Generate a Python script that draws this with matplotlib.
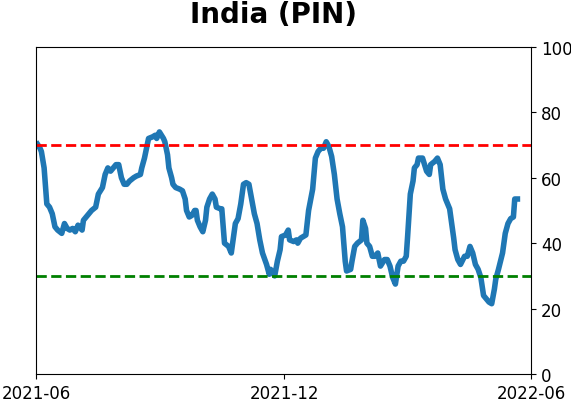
import matplotlib
matplotlib.use("Agg")
import matplotlib.pyplot as plt
import pandas as pd

title = "India (PIN)"
start_date = "2021-06-01"
day_offsets = [0, 3, 4, 6, 8, 10, 12, 14, 16, 19, 21, 23, 25, 27, 29, 31, 32, 34, 35, 37,
               39, 41, 44, 46, 49, 51, 53, 55, 57, 59, 61, 63, 65, 67, 69, 72, 74, 77, 78, 80,
               83, 86, 88, 89, 91, 94, 95, 97, 98, 100, 101, 103, 106, 108, 110, 111, 113, 115, 117, 118,
               119, 121, 123, 125, 126, 128, 130, 132, 133, 136, 137, 139, 142, 144, 146, 147, 149, 151, 153, 155,
               157, 159, 161, 163, 165, 167, 170, 172, 173, 176, 178, 180, 181, 184, 186, 187, 190, 192, 193, 195,
               197, 199, 201, 204, 206, 208, 210, 212, 214, 216, 218, 220, 222, 224, 226, 228, 229, 232, 233, 235,
               237, 240, 241, 243, 244, 246, 248, 250, 252, 254, 257, 259, 261, 263, 265, 267, 269, 271, 273, 274,
               276, 278, 279, 281, 282, 285, 288, 290, 291, 294, 296, 298, 300, 302, 305, 308, 309, 311, 313, 316,
               318, 320, 322, 324, 326, 328, 330, 332, 334, 336, 338, 339, 341, 344, 346, 348, 350, 352, 353, 355, 357]
values = [71, 69, 68, 63, 52, 51, 49, 45, 44, 43, 46, 44.5, 44, 44.5, 43.5, 45.5, 45, 44, 47, 48,
          49, 50, 51, 55, 57, 61, 63, 62, 63, 64, 64, 60, 58, 58, 59, 60, 60.5, 61, 63, 66,
          72, 72.5, 73, 72, 74, 72, 71, 67, 63, 60, 58, 57, 56.5, 56, 53.5, 50, 48, 48.5, 50, 50,
          47, 45, 43.5, 47, 51, 53.5, 55, 53.5, 51, 50.5, 50.5, 40, 39, 37, 43, 46, 47.5, 52, 58, 58.5,
          58, 53.5, 49, 46, 41, 37, 33.5, 30.5, 32, 30, 34.5, 38, 42, 42.5, 44, 41, 40.5, 41, 40, 41.5,
          42, 42.5, 50, 56.5, 66, 68, 69, 69, 71, 69.5, 66.5, 61, 53.5, 49, 45, 34.5, 31.5, 32, 34.5, 39,
          40, 41, 47, 44.5, 40, 39, 36, 36, 37, 33, 35, 35, 33, 29.5, 27.5, 33, 34.5, 34.5, 36, 42,
          55, 59, 63, 64, 66, 66, 62, 61, 64, 65, 66, 64, 56.5, 53.5, 50.5, 41.5, 38, 35, 33.5, 36,
          36, 39, 37, 33.5, 32, 29.5, 24, 23, 22, 21.5, 26, 29, 32, 37, 43, 46, 47.5, 48, 53.5, 53.5, 53.5]
upper_level = 70
lower_level = 30
y_ticks = [0, 20, 40, 60, 80, 100]
x_tick_labels = ["2021-06", "2021-12", "2022-06"]

dates = pd.Timestamp(start_date) + pd.to_timedelta(day_offsets, unit="D")

fig = plt.figure(figsize=(5.71, 4.02), dpi=100)
ax = fig.add_axes([0.063, 0.067, 0.867, 0.814])
ax.plot(dates, values, color="#1f77b4", linewidth=4, solid_capstyle="butt")
ax.axhline(upper_level, color="red", linestyle="--", linewidth=2)
ax.axhline(lower_level, color="green", linestyle="--", linewidth=2)

ax.set_ylim(0, 100)
ax.set_yticks(y_ticks)
ax.yaxis.tick_right()
ax.set_xlim(pd.Timestamp("2021-06-01"), pd.Timestamp("2022-06-01"))
ax.set_xticks([pd.Timestamp(s + "-01") for s in x_tick_labels])
ax.set_xticklabels(x_tick_labels)
ax.tick_params(labelsize=12)
fig.text(0.479, 0.998, title, fontsize=20, fontweight="bold", ha="center", va="top")

fig.savefig("out.png", dpi=100)
